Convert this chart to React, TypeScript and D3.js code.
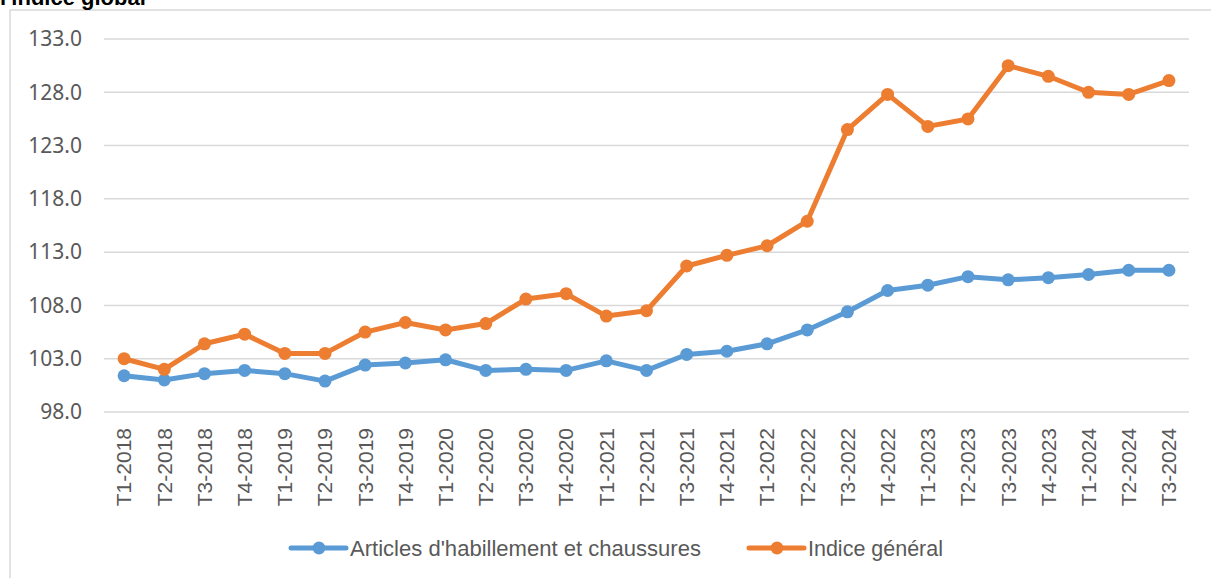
import React, { useEffect, useRef } from 'react';
import * as d3 from 'd3';

const quarters = [
  'T1-2018', 'T2-2018', 'T3-2018', 'T4-2018',
  'T1-2019', 'T2-2019', 'T3-2019', 'T4-2019',
  'T1-2020', 'T2-2020', 'T3-2020', 'T4-2020',
  'T1-2021', 'T2-2021', 'T3-2021', 'T4-2021',
  'T1-2022', 'T2-2022', 'T3-2022', 'T4-2022',
  'T1-2023', 'T2-2023', 'T3-2023', 'T4-2023',
  'T1-2024', 'T2-2024', 'T3-2024',
];

const habillement = [
  101.4, 101.0, 101.6, 101.9, 101.6, 100.9, 102.4, 102.6, 102.9, 101.9,
  102.0, 101.9, 102.8, 101.9, 103.4, 103.7, 104.4, 105.7, 107.4, 109.4,
  109.9, 110.7, 110.4, 110.6, 110.9, 111.3, 111.3,
];

const indiceGeneral = [
  103.0, 102.0, 104.4, 105.3, 103.5, 103.5, 105.5, 106.4, 105.7, 106.3,
  108.6, 109.1, 107.0, 107.5, 111.7, 112.7, 113.6, 115.9, 124.5, 127.8,
  124.8, 125.5, 130.5, 129.5, 128.0, 127.8, 129.1,
];

const yTicks = [98, 103, 108, 113, 118, 123, 128, 133];

const seriesNames = ["Articles d'habillement et chaussures", 'Indice général'];
const seriesColors = ['#5B9BD5', '#ED7D31'];

const W = 1211;
const H = 578;

const App = () => {
  const ref = useRef<SVGSVGElement>(null);

  useEffect(() => {
    const svg = d3.select(ref.current);
    svg.selectAll('*').remove();

    const x = d3.scaleBand().domain(quarters).range([104, 1189]);
    const y = d3.scaleLinear().domain([98, 133]).range([412, 39]);
    const cx = (d: string) => (x(d) as number) + x.bandwidth() / 2;

    // chart frame
    svg.append('rect')
      .attr('x', 10).attr('y', 10)
      .attr('width', W + 20).attr('height', H + 20)
      .attr('fill', 'none')
      .attr('stroke', '#D9D9D9')
      .attr('stroke-width', 1.5);

    svg.append('text')
      .attr('x', 0).attr('y', 5)
      .attr('font-family', 'Liberation Sans, Arial, sans-serif')
      .attr('font-weight', 'bold')
      .attr('font-size', 22)
      .attr('fill', '#000')
      .text("l'indice global");

    // grid + y labels
    const yAxis = svg.append('g');
    yAxis.selectAll('line')
      .data(yTicks)
      .enter()
      .append('line')
      .attr('x1', 104).attr('x2', 1189)
      .attr('y1', d => y(d)).attr('y2', d => y(d))
      .attr('stroke', '#D9D9D9')
      .attr('stroke-width', 1.5);
    yAxis.selectAll('text')
      .data(yTicks)
      .enter()
      .append('text')
      .attr('x', 82)
      .attr('y', d => y(d))
      .attr('dy', '0.35em')
      .attr('text-anchor', 'end')
      .attr('font-family', 'Noto Sans, sans-serif')
      .attr('font-size', 21)
      .attr('fill', '#595959')
      .text(d => d.toFixed(1));

    // x labels
    svg.append('g')
      .selectAll('text')
      .data(quarters)
      .enter()
      .append('text')
      .attr('transform', d => `translate(${cx(d)}, 428) rotate(-90)`)
      .attr('dy', '0.35em')
      .attr('text-anchor', 'end')
      .attr('font-family', 'Liberation Sans, Arial, sans-serif')
      .attr('font-size', 21)
      .attr('fill', '#595959')
      .text(d => d);

    const line = d3.line<number>()
      .x((_, i) => cx(quarters[i]))
      .y(d => y(d));

    [habillement, indiceGeneral].forEach((values, s) => {
      const g = svg.append('g');
      g.append('path')
        .datum(values)
        .attr('d', line)
        .attr('fill', 'none')
        .attr('stroke', seriesColors[s])
        .attr('stroke-width', 5)
        .attr('stroke-linejoin', 'round')
        .attr('stroke-linecap', 'round');
      g.selectAll('circle')
        .data(values)
        .enter()
        .append('circle')
        .attr('cx', (_, i) => cx(quarters[i]))
        .attr('cy', d => y(d))
        .attr('r', 6.5)
        .attr('fill', seriesColors[s]);
    });

    // legend
    const legendX = [291, 749];
    const legendW = [351, 135];
    const legend = svg.append('g');
    seriesNames.forEach((name, s) => {
      const lx = legendX[s];
      legend.append('line')
        .attr('x1', lx).attr('x2', lx + 55)
        .attr('y1', 548).attr('y2', 548)
        .attr('stroke', seriesColors[s])
        .attr('stroke-width', 5)
        .attr('stroke-linecap', 'round');
      legend.append('circle')
        .attr('cx', lx + 28).attr('cy', 548)
        .attr('r', 6.5)
        .attr('fill', seriesColors[s]);
      legend.append('text')
        .attr('x', lx + 59)
        .attr('y', 548)
        .attr('dy', '0.35em')
        .attr('font-family', 'Liberation Sans Narrow, Liberation Sans, sans-serif')
        .attr('font-size', 22)
        .attr('fill', '#595959')
        .attr('textLength', legendW[s])
        .attr('lengthAdjust', 'spacingAndGlyphs')
        .text(name);
    });
  }, []);

  return (
    <svg
      ref={ref}
      width={W}
      height={H}
      style={{ position: 'absolute', left: 0, top: 0, background: '#fff' }}
    />
  );
};

export default App;
